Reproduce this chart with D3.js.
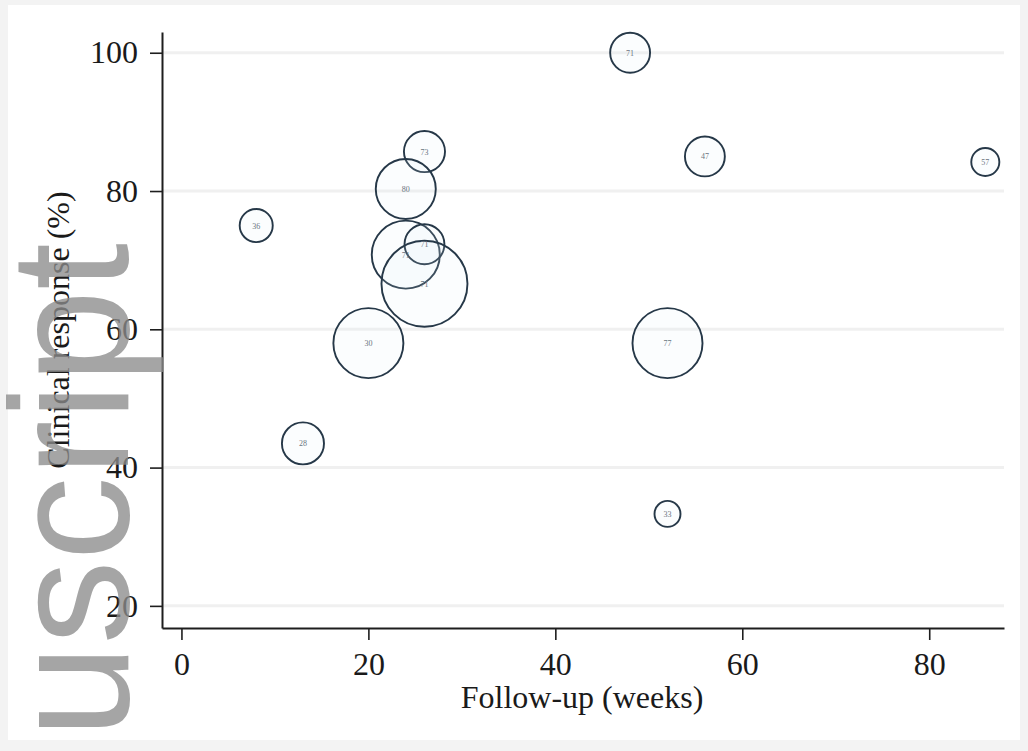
<!DOCTYPE html>
<html>
<head>
<meta charset="utf-8">
<script src="https://cdn.jsdelivr.net/npm/d3@7"></script>
<style>
  html, body { margin: 0; padding: 0; background: #f3f3f3; }
  svg { display: block; }
</style>
</head>
<body>
<svg id="chart" width="1028" height="751"></svg>
<script>
// ---- data ----
const studyLabels = ["36", "28", "30", "73", "80", "71", "71", "71", "71", "47", "77", "33", "57"];
const followUpWeeks = [8, 13, 20, 26, 24, 24, 26, 26, 48, 56, 52, 52, 86];
const clinicalResponse = [75, 43.5, 58, 85.7, 80.3, 70.8, 72.3, 66.6, 100, 85, 58, 33.3, 84.2];
const sampleSize = [68, 110, 305, 105, 224, 288, 99, 460, 99, 99, 305, 42, 49];
const xTicks = [0, 20, 40, 60, 80];
const yTicks = [20, 40, 60, 80, 100];

const svg = d3.select("#chart");
const W = 1028, H = 751;

// background frame
svg.append("rect").attr("x", 0).attr("y", 0).attr("width", W).attr("height", H).attr("fill", "#f3f3f3");
svg.append("rect").attr("x", 8).attr("y", 5).attr("width", 1012).attr("height", 735).attr("fill", "#ffffff");

const x = d3.scaleLinear().domain([-2.08, 88]).range([162, 1004]);
const y = d3.scaleLinear().domain([16.8, 103]).range([628, 32]);
const r = d3.scaleSqrt().domain([0, 460]).range([0, 43]);

// gridlines
svg.append("g").selectAll("line").data(yTicks).join("line")
  .attr("x1", x(-2.08)).attr("x2", x(88))
  .attr("y1", d => y(d)).attr("y2", d => y(d))
  .attr("stroke", "#f0f0f0").attr("stroke-width", 3);

// bubbles
const pts = followUpWeeks.map((d, i) => ({x: d, y: clinicalResponse[i], n: sampleSize[i], lab: studyLabels[i]}));
const g = svg.append("g");
g.selectAll("circle").data(pts).join("circle")
  .attr("cx", d => x(d.x)).attr("cy", d => y(d.y)).attr("r", d => r(d.n))
  .attr("fill", "rgba(225,238,248,0.12)")
  .attr("stroke", "#263848").attr("stroke-width", 1.9);
g.selectAll("text").data(pts).join("text")
  .attr("x", d => x(d.x)).attr("y", d => y(d.y) + 3)
  .attr("text-anchor", "middle")
  .attr("font-family", "Liberation Serif, serif")
  .attr("font-size", 8).attr("fill", "#6a7480")
  .text(d => d.lab);

// axes
const fontTick = "32px";
const yAxis = svg.append("g").attr("transform", `translate(${x(-2.08)},0)`)
  .call(d3.axisLeft(y).tickValues(yTicks).tickSize(12).tickPadding(12).tickSizeOuter(0));
const xAxis = svg.append("g").attr("transform", `translate(0,${y(16.8)})`)
  .call(d3.axisBottom(x).tickValues(xTicks).tickSize(12).tickPadding(12).tickSizeOuter(0));
[yAxis, xAxis].forEach(a => {
  a.select(".domain").attr("stroke", "#1e1e1e").attr("stroke-width", 2);
  a.selectAll(".tick line").attr("stroke", "#1e1e1e").attr("stroke-width", 1.6);
  a.selectAll(".tick text").attr("font-family", "Liberation Serif, 'Times New Roman', serif")
    .attr("font-size", fontTick).attr("fill", "#1a1a1a");
});

// axis titles
svg.append("text")
  .attr("x", 582).attr("y", 708)
  .attr("text-anchor", "middle")
  .attr("font-family", "Liberation Serif, 'Times New Roman', serif")
  .attr("font-size", 32).attr("fill", "#1a1a1a")
  .text("Follow-up (weeks)");
svg.append("text")
  .attr("transform", "translate(69,330) rotate(-90)")
  .attr("text-anchor", "middle")
  .attr("font-family", "Liberation Serif, 'Times New Roman', serif")
  .attr("font-size", 32).attr("fill", "#1a1a1a")
  .text("Clinical response (%)");

// watermark
svg.append("text")
  .attr("transform", "translate(128,738) rotate(-90)")
  .attr("font-family", "Liberation Sans, Arial, sans-serif")
  .attr("font-size", 168).attr("fill", "#8c8c8c").attr("fill-opacity", 0.78)
  .text("uscript");
</script>
</body>
</html>
